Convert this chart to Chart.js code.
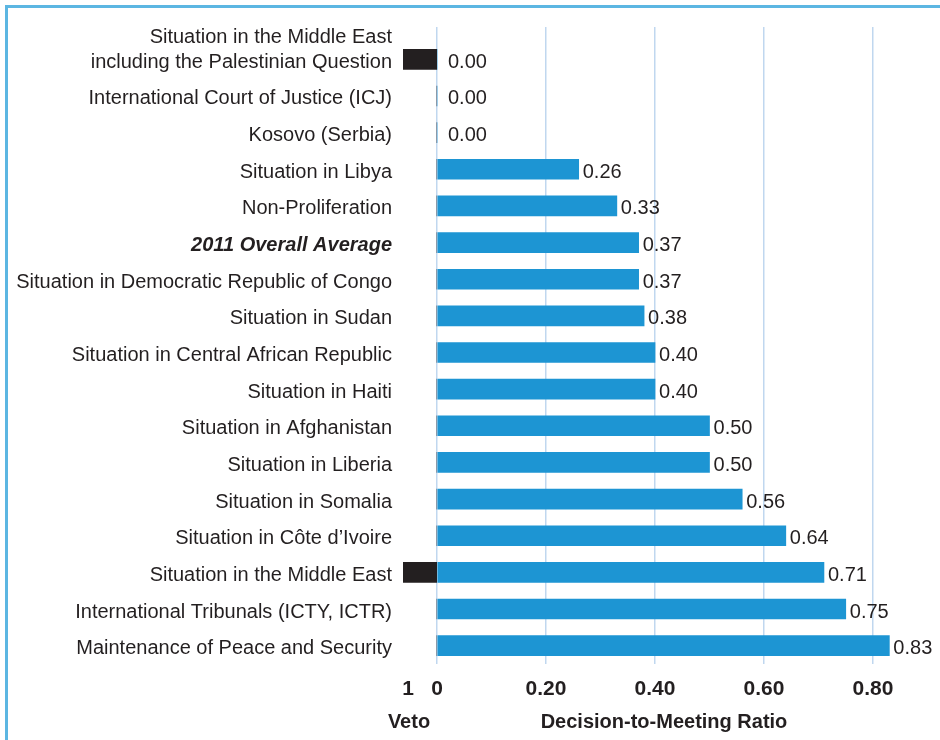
<!DOCTYPE html>
<html>
<head>
<meta charset="utf-8">
<script src="https://cdn.jsdelivr.net/npm/chart.js@4"></script>
<style>
  html, body { margin: 0; padding: 0; background: #ffffff; }
  #wrap { position: relative; width: 940px; height: 740px; overflow: hidden; }
  #frame { position: absolute; left: 5px; top: 5px; right: -10px; bottom: -10px;
           border-left: 3px solid #5cb6e2; border-top: 3px solid #5cb6e2; }
  canvas { position: absolute; left: 0; top: 0; }
</style>
</head>
<body>
<div id="wrap">
  <div id="frame"></div>
  <canvas id="c" width="940" height="740"></canvas>
</div>
<script>
// ---- data ----
const categories = [
  ["Situation in the Middle East", "including the Palestinian Question", ""],
  "International Court of Justice (ICJ)",
  "Kosovo (Serbia)",
  "Situation in Libya",
  "Non-Proliferation",
  "2011 Overall Average",
  "Situation in Democratic Republic of Congo",
  "Situation in Sudan",
  "Situation in Central African Republic",
  "Situation in Haiti",
  "Situation in Afghanistan",
  "Situation in Liberia",
  "Situation in Somalia",
  "Situation in Côte d’Ivoire",
  "Situation in the Middle East",
  "International Tribunals (ICTY, ICTR)",
  "Maintenance of Peace and Security"
];
const ratioValues = [0.00, 0.00, 0.00, 0.26, 0.33, 0.37, 0.37, 0.38, 0.40, 0.40, 0.50, 0.50, 0.56, 0.64, 0.71, 0.75, 0.83];
const vetoValues  = [1, 0, 0, 0, 0, 0, 0, 0, 0, 0, 0, 0, 0, 0, 1, 0, 0];
const ratioTicks = [0, 0.2, 0.4, 0.6, 0.8];
const vetoTicks = [0, 1];
const highlightIndex = 5;
const vetoTitle = 'Veto';
const ratioTitle = 'Decision-to-Meeting Ratio';

const FONT = "'Liberation Sans', Arial, Helvetica, sans-serif";
const TEXT = '#231f20';
const GRID = '#c0d7ef';

function alignPx(p, w) {
  const h = w / 2;
  return Math.round(p - h) + h;
}

const valueLabels = {
  id: 'valueLabels',
  afterDatasetsDraw(chart) {
    const ctx = chart.ctx;
    const meta = chart.getDatasetMeta(1);
    ctx.save();
    ctx.font = '20px ' + FONT;
    ctx.fillStyle = TEXT;
    ctx.textAlign = 'left';
    ctx.textBaseline = 'middle';
    meta.data.forEach((bar, i) => {
      const v = ratioValues[i];
      const dx = v === 0 ? 11 : 4;
      ctx.fillText(v.toFixed(2), bar.x + dx, bar.y + 3);
    });
    ctx.restore();
  }
};

const extras = {
  id: 'extras',
  beforeDatasetsDraw(chart) {
    const ctx = chart.ctx;
    const sc = chart.scales.x;
    ctx.save();
    ctx.strokeStyle = GRID;
    ctx.lineWidth = 1.5;
    sc.ticks.forEach(t => {
      const px = alignPx(sc.getPixelForValue(t.value), 1.5);
      ctx.beginPath();
      ctx.moveTo(px, 27);
      ctx.lineTo(px, chart.chartArea.top);
      ctx.stroke();
    });
    ctx.restore();
  },
  afterDraw(chart) {
    // veto axis title (the veto scale is too narrow for the built-in title width)
    const ctx = chart.ctx;
    const sv = chart.scales.xv;
    ctx.save();
    ctx.font = 'bold 20px ' + FONT;
    ctx.fillStyle = TEXT;
    ctx.textAlign = 'center';
    ctx.textBaseline = 'middle';
    ctx.fillText(vetoTitle, sv.getPixelForValue(1) + 6, sv.bottom - 6 - 12);
    ctx.restore();
  }
};

new Chart(document.getElementById('c'), {
  type: 'bar',
  data: {
    labels: categories,
    datasets: [
      {
        label: vetoTitle,
        data: vetoValues,
        xAxisID: 'xv',
        backgroundColor: '#231f20',
        borderWidth: 0,
        barThickness: 20,
        grouped: false
      },
      {
        label: ratioTitle,
        data: ratioValues,
        xAxisID: 'x',
        backgroundColor: '#1d95d3',
        borderWidth: 0,
        barThickness: 20,
        grouped: false
      }
    ]
  },
  options: {
    indexAxis: 'y',
    responsive: false,
    animation: false,
    devicePixelRatio: 1,
    layout: { padding: { top: 41, right: 49, bottom: 0, left: 0 } },
    plugins: {
      legend: { display: false },
      tooltip: { enabled: false },
      title: { display: false }
    },
    scales: {
      xv: {
        type: 'linear',
        position: 'bottom',
        stack: 'xs',
        stackWeight: 34,
        reverse: true,
        min: 0,
        max: 1,
        afterBuildTicks(scale) { scale.ticks = vetoTicks.map(v => ({ value: v })); },
        afterFit(scale) { scale.height = 76; },
        grid: { display: false, drawTicks: false },
        border: { display: false },
        ticks: {
          padding: 13,
          labelOffset: 5,
          color: TEXT,
          font: { family: FONT, size: 21, weight: 'bold' },
          callback: v => (v === 0 ? '' : String(v)),
          maxRotation: 0
        },
        title: { display: false }
      },
      x: {
        type: 'linear',
        position: 'bottom',
        stack: 'xs',
        stackWeight: 454,
        min: 0,
        max: 0.833,
        afterBuildTicks(scale) { scale.ticks = ratioTicks.map(v => ({ value: v })); },
        afterFit(scale) { scale.height = 76; },
        grid: { display: true, color: GRID, lineWidth: 1.5, drawTicks: false },
        border: { display: false },
        ticks: {
          padding: 13,
          color: TEXT,
          font: { family: FONT, size: 21, weight: 'bold' },
          callback: v => (v === 0 ? '0' : Number(v).toFixed(2)),
          maxRotation: 0
        },
        title: {
          display: true,
          text: ratioTitle,
          color: TEXT,
          font: { family: FONT, size: 20, weight: 'bold' },
          padding: { top: 0, bottom: 6 }
        }
      },
      y: {
        type: 'category',
        position: 'left',
        afterFit(scale) { scale.width = 403; },
        grid: { display: false, drawTicks: false },
        border: { display: false },
        ticks: {
          padding: 11,
          labelOffset: 3,
          color: TEXT,
          autoSkip: false,
          font: (ctx) => {
            if (ctx.index === highlightIndex) return { family: FONT, size: 20, weight: 'bold', style: 'italic', lineHeight: 1.2 };
            if (ctx.index === 0) return { family: FONT, size: 20, lineHeight: 1.25 };
            return { family: FONT, size: 20, lineHeight: 1.2 };
          }
        }
      }
    }
  },
  plugins: [valueLabels, extras]
});
</script>
</body>
</html>
